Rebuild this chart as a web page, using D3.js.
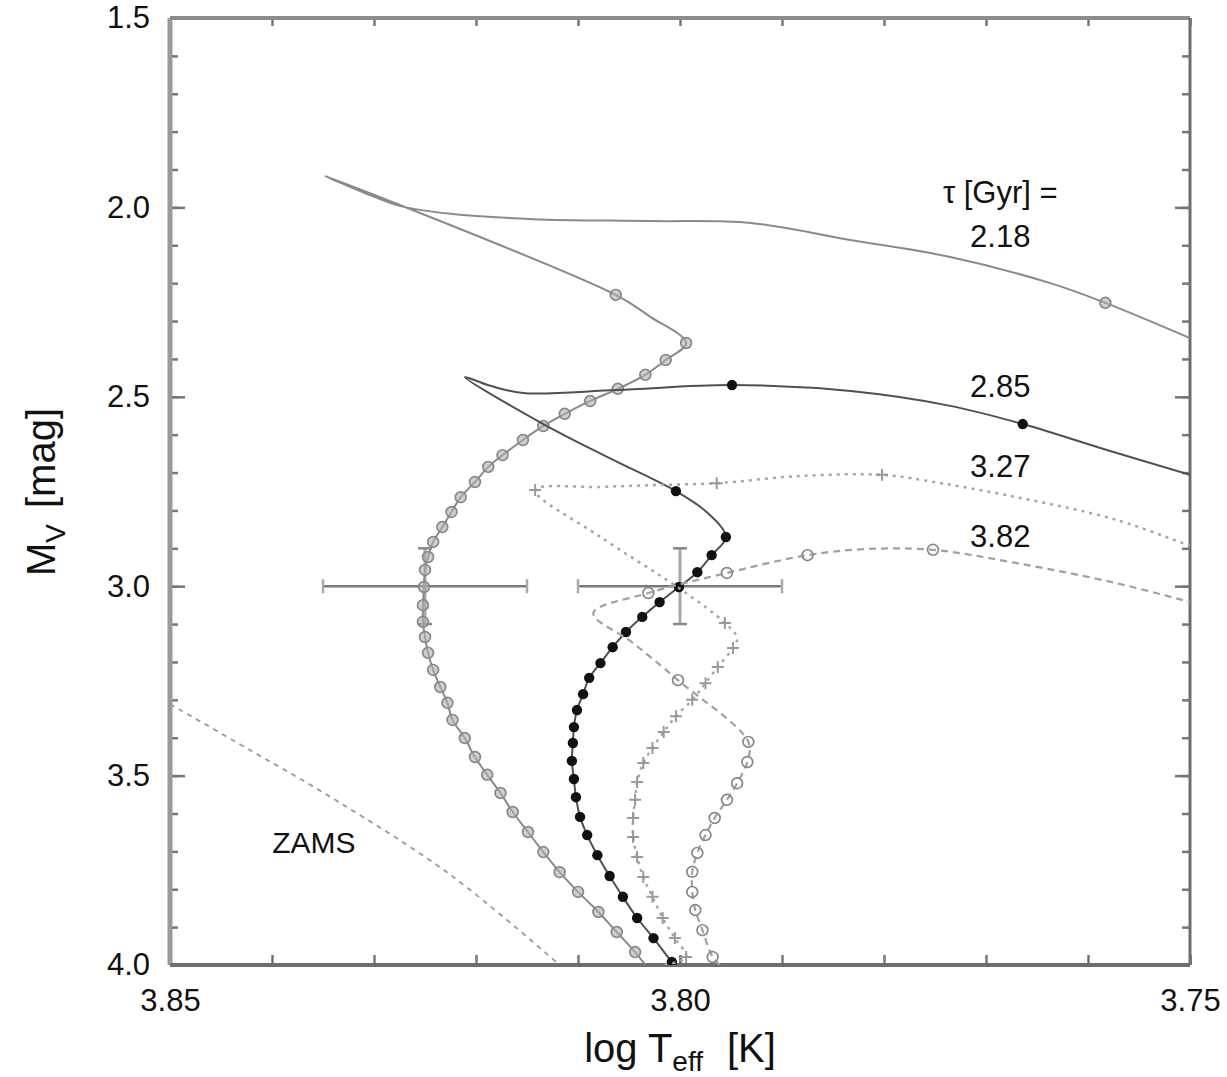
<!DOCTYPE html>
<html>
<head>
<meta charset="utf-8">
<script src="https://cdn.jsdelivr.net/npm/d3@7.9.0/dist/d3.min.js"></script>
<style>
  html, body { margin: 0; padding: 0; background: #fff; }
  svg { display: block; font-family: "Liberation Sans", Arial, sans-serif; }
</style>
</head>
<body>
<svg id="chart" width="1227" height="1077"></svg>
<script>
// Isochrone points: [log Teff, M_V, marker? (1/0)]
const iso218 = [
  [3.8034, 4.000, 0], [3.8044, 3.966, 1], [3.8062, 3.913, 1], [3.8080, 3.860, 1], [3.8100, 3.807, 1],
  [3.8118, 3.755, 1], [3.8134, 3.702, 1], [3.8149, 3.649, 1], [3.8164, 3.596, 1], [3.8176, 3.546, 1],
  [3.8189, 3.498, 1], [3.8201, 3.451, 1], [3.8211, 3.401, 1], [3.8223, 3.353, 1], [3.8228, 3.308, 1],
  [3.8235, 3.266, 1], [3.8242, 3.221, 1], [3.8247, 3.176, 1], [3.8250, 3.134, 1], [3.8252, 3.094, 1],
  [3.8252, 3.050, 1], [3.8251, 3.002, 1], [3.8250, 2.957, 1], [3.8247, 2.923, 1], [3.8242, 2.883, 1],
  [3.8233, 2.844, 1], [3.8224, 2.804, 1], [3.8215, 2.765, 1], [3.8201, 2.725, 1], [3.8188, 2.685, 1],
  [3.8174, 2.654, 1], [3.8154, 2.614, 1], [3.8134, 2.577, 1], [3.8113, 2.545, 1], [3.8088, 2.511, 1],
  [3.8061, 2.479, 1], [3.8034, 2.442, 1], [3.8014, 2.403, 1], [3.7994, 2.358, 1], [3.8029, 2.289, 0],
  [3.8063, 2.231, 1], [3.8348, 1.917, 0], [3.8309, 1.962, 0], [3.8275, 1.996, 0], [3.8225, 2.017, 0],
  [3.8144, 2.031, 0], [3.8029, 2.036, 0], [3.7931, 2.041, 0], [3.7833, 2.086, 0], [3.7735, 2.131, 0],
  [3.7637, 2.200, 0], [3.7583, 2.252, 1], [3.7500, 2.345, 0]
];

const iso285 = [
  [3.8005, 4.000, 0], [3.8008, 3.992, 1], [3.8026, 3.929, 1], [3.8042, 3.876, 1], [3.8056, 3.820, 1],
  [3.8069, 3.765, 1], [3.8081, 3.710, 1], [3.8091, 3.657, 1], [3.8098, 3.609, 1], [3.8102, 3.557, 1],
  [3.8104, 3.509, 1], [3.8106, 3.461, 1], [3.8105, 3.414, 1], [3.8104, 3.372, 1], [3.8101, 3.327, 1],
  [3.8095, 3.285, 1], [3.8089, 3.242, 1], [3.8078, 3.203, 1], [3.8066, 3.161, 1], [3.8053, 3.121, 1],
  [3.8037, 3.081, 1], [3.8020, 3.042, 1], [3.8001, 3.002, 1], [3.7983, 2.963, 1], [3.7969, 2.918, 1],
  [3.7955, 2.870, 1], [3.7974, 2.804, 0], [3.8004, 2.749, 1], [3.8069, 2.662, 0], [3.8134, 2.572, 0],
  [3.8211, 2.448, 0], [3.8186, 2.471, 0], [3.8154, 2.490, 0], [3.8062, 2.482, 0], [3.7949, 2.469, 1],
  [3.7833, 2.485, 0], [3.7735, 2.524, 0], [3.7664, 2.572, 1], [3.7588, 2.635, 0], [3.7500, 2.706, 0]
];

const iso327 = [
  [3.8015, 4.000, 0], [3.7994, 3.979, 1], [3.8005, 3.929, 1], [3.8017, 3.876, 1], [3.8027, 3.820, 1],
  [3.8036, 3.768, 1], [3.8042, 3.715, 1], [3.8046, 3.662, 1], [3.8046, 3.612, 1], [3.8044, 3.564, 1],
  [3.8042, 3.517, 1], [3.8036, 3.467, 1], [3.8027, 3.427, 1], [3.8016, 3.385, 1], [3.8004, 3.343, 1],
  [3.7988, 3.300, 1], [3.7975, 3.256, 1], [3.7963, 3.213, 1], [3.7948, 3.163, 1], [3.7944, 3.137, 0],
  [3.7956, 3.097, 1], [3.8000, 3.007, 0], [3.8078, 2.870, 0], [3.8142, 2.746, 1], [3.8078, 2.738, 0],
  [3.8023, 2.733, 0], [3.7964, 2.728, 1], [3.7882, 2.709, 0], [3.7802, 2.706, 1], [3.7762, 2.720, 0],
  [3.7670, 2.765, 0], [3.7572, 2.825, 0], [3.7500, 2.894, 0]
];

const iso382 = [
  [3.7961, 4.000, 0], [3.7968, 3.979, 1], [3.7978, 3.908, 1], [3.7985, 3.855, 1], [3.7988, 3.807, 1],
  [3.7988, 3.754, 1], [3.7983, 3.704, 1], [3.7975, 3.657, 1], [3.7966, 3.612, 1], [3.7954, 3.564, 1],
  [3.7944, 3.520, 1], [3.7934, 3.464, 1], [3.7933, 3.411, 1], [3.8002, 3.248, 1], [3.8046, 3.150, 0],
  [3.8085, 3.071, 0], [3.8031, 3.018, 1], [3.7954, 2.965, 1], [3.7875, 2.918, 1], [3.7817, 2.902, 0],
  [3.7752, 2.904, 1], [3.7670, 2.939, 0], [3.7572, 2.992, 0], [3.7500, 3.042, 0]
];

const zams = [[3.8500, 3.311], [3.8422, 3.432], [3.8338, 3.564], [3.8225, 3.762], [3.8118, 4.000]];

// observed positions with error bars
const obsTeff = [3.825, 3.800];
const obsMv = [3.0, 3.0];
const errTeff = 0.01;
const errMv = 0.1;

const ageLabels = ['2.18', '2.85', '3.27', '3.82'];
const xMajor = [3.85, 3.80, 3.75];
const xMinor = d3.range(3.75, 3.8501, 0.01);
const yMajor = [1.5, 2.0, 2.5, 3.0, 3.5, 4.0];
const yMinor = d3.range(1.5, 4.001, 0.1);

const svg = d3.select('#chart');
const m = { left: 170, right: 1190, top: 18, bottom: 965 };

const x = d3.scaleLinear().domain([3.85, 3.75]).range([m.left, m.right]);
const y = d3.scaleLinear().domain([1.5, 4.0]).range([m.top, m.bottom]);

svg.append('defs').append('clipPath').attr('id', 'plot')
  .append('rect').attr('x', m.left).attr('y', m.top)
  .attr('width', m.right - m.left).attr('height', m.bottom - m.top);

// Axes: ticks point inward, frame drawn separately
function styleAxis(g) {
  g.select('.domain').remove();
  g.selectAll('.tick line').attr('stroke', '#777').attr('stroke-width', 2.5);
  g.attr('font-family', null).attr('font-size', 31);
  g.selectAll('.tick text').attr('fill', '#111');
}

svg.append('g').attr('transform', `translate(${m.left},0)`)
  .call(d3.axisLeft(y).tickValues(yMinor).tickSize(-8).tickFormat(''))
  .call(styleAxis);
svg.append('g').attr('transform', `translate(${m.left},0)`)
  .call(d3.axisLeft(y).tickValues(yMajor).tickSize(-15).tickPadding(20).tickFormat(d3.format('.1f')))
  .call(styleAxis);
svg.append('g').attr('transform', `translate(${m.right},0)`)
  .call(d3.axisRight(y).tickValues(yMinor).tickSize(-8).tickFormat(''))
  .call(styleAxis);
svg.append('g').attr('transform', `translate(${m.right},0)`)
  .call(d3.axisRight(y).tickValues(yMajor).tickSize(-15).tickFormat(''))
  .call(styleAxis);
svg.append('g').attr('transform', `translate(0,${m.bottom})`)
  .call(d3.axisBottom(x).tickValues(xMinor).tickSize(-10).tickFormat(''))
  .call(styleAxis);
svg.append('g').attr('transform', `translate(0,${m.bottom})`)
  .call(d3.axisBottom(x).tickValues(xMajor).tickSize(-10).tickPadding(24).tickFormat(d3.format('.2f')))
  .call(styleAxis);
svg.append('g').attr('transform', `translate(0,${m.top})`)
  .call(d3.axisTop(x).tickValues(xMinor).tickSize(-8).tickFormat(''))
  .call(styleAxis);

// frame
svg.append('line').attr('x1', m.left).attr('x2', m.left).attr('y1', m.top).attr('y2', m.bottom)
  .attr('stroke', '#9a9a9a').attr('stroke-width', 5);
svg.append('line').attr('x1', m.left).attr('x2', m.right).attr('y1', m.top).attr('y2', m.top)
  .attr('stroke', '#8c8c8c').attr('stroke-width', 4);
svg.append('line').attr('x1', m.right).attr('x2', m.right).attr('y1', m.top).attr('y2', m.bottom)
  .attr('stroke', '#6e6e6e').attr('stroke-width', 3);
svg.append('line').attr('x1', m.left).attr('x2', m.right).attr('y1', m.bottom).attr('y2', m.bottom)
  .attr('stroke', '#6e6e6e').attr('stroke-width', 4);

const plot = svg.append('g').attr('clip-path', 'url(#plot)');
const line = d3.line().x(d => x(d[0])).y(d => y(d[1])).curve(d3.curveCatmullRom.alpha(0.5));

// ZAMS
plot.append('path').datum(zams).attr('d', line)
  .attr('fill', 'none').attr('stroke', '#9a9a9a').attr('stroke-width', 1.8)
  .attr('stroke-dasharray', '5,5');

// error crosses
const errG = plot.append('g');
obsTeff.forEach((t, i) => {
  const cx = x(t), cy = y(obsMv[i]);
  const x0 = x(t + errTeff), x1 = x(t - errTeff);
  const y0 = y(obsMv[i] - errMv), y1 = y(obsMv[i] + errMv);
  errG.append('line').attr('x1', cx).attr('x2', cx).attr('y1', y0).attr('y2', y1)
    .attr('stroke', '#a8a8a8').attr('stroke-width', 3);
  [y0, y1].forEach(v => errG.append('line').attr('x1', cx - 7).attr('x2', cx + 7)
    .attr('y1', v).attr('y2', v).attr('stroke', '#888').attr('stroke-width', 2.5));
  errG.append('line').attr('x1', x0).attr('x2', x1).attr('y1', cy).attr('y2', cy)
    .attr('stroke', '#7a7a7a').attr('stroke-width', 2.5);
  [x0, x1].forEach(v => errG.append('line').attr('x1', v).attr('x2', v)
    .attr('y1', cy - 7).attr('y2', cy + 7).attr('stroke', '#aaa').attr('stroke-width', 2.5));
});

// isochrones
const series = [
  { data: iso218, stroke: '#8a8a8a', width: 2, dash: null, marker: 'circleGray' },
  { data: iso285, stroke: '#505050', width: 2, dash: null, marker: 'dot' },
  { data: iso327, stroke: '#a6a6a6', width: 2.5, dash: '3,5', marker: 'plus' },
  { data: iso382, stroke: '#a0a0a0', width: 2.2, dash: '7,5', marker: 'open' }
];

series.forEach(s => {
  plot.append('path').datum(s.data).attr('d', line)
    .attr('fill', 'none').attr('stroke', s.stroke).attr('stroke-width', s.width)
    .attr('stroke-dasharray', s.dash);
  const pts = s.data.filter(d => d[2]);
  const g = plot.append('g');
  if (s.marker === 'plus') {
    g.selectAll('path').data(pts).join('path')
      .attr('d', d => `M${x(d[0]) - 6},${y(d[1])}h12M${x(d[0])},${y(d[1]) - 6}v12`)
      .attr('stroke', '#999').attr('stroke-width', 2).attr('fill', 'none');
  } else {
    g.selectAll('circle').data(pts).join('circle')
      .attr('cx', d => x(d[0])).attr('cy', d => y(d[1]))
      .attr('r', s.marker === 'dot' ? 5.2 : 5.4)
      .attr('fill', s.marker === 'dot' ? '#111' : (s.marker === 'circleGray' ? 'rgba(175,175,175,0.6)' : 'none'))
      .attr('stroke', s.marker === 'dot' ? 'none' : '#888')
      .attr('stroke-width', 1.7);
  }
});

// labels
const labelX = 3.7686;
svg.append('text').attr('x', x(labelX)).attr('y', y(1.988)).attr('text-anchor', 'middle')
  .attr('font-size', 31).attr('fill', '#111').text('τ [Gyr] =');
const labelMv = [2.105, 2.501, 2.712, 2.897];
ageLabels.forEach((t, i) => {
  svg.append('text').attr('x', x(labelX)).attr('y', y(labelMv[i])).attr('text-anchor', 'middle')
    .attr('font-size', 31).attr('fill', '#111').text(t);
});
svg.append('text').attr('x', x(3.8359)).attr('y', y(3.704)).attr('text-anchor', 'middle')
  .attr('font-size', 30).attr('fill', '#111').text('ZAMS');

// axis titles
const xt = svg.append('text').attr('x', (m.left + m.right) / 2).attr('y', 1062)
  .attr('text-anchor', 'middle').attr('font-size', 40).attr('fill', '#111');
xt.append('tspan').text('log T');
xt.append('tspan').attr('dy', 9).attr('font-size', 28).text('eff');
xt.append('tspan').attr('dy', -9).attr('dx', 24).text('[K]');

const yt = svg.append('text').attr('transform', 'translate(55,492) rotate(-90)')
  .attr('text-anchor', 'middle').attr('font-size', 40).attr('fill', '#111');
yt.append('tspan').text('M');
yt.append('tspan').attr('dy', 10).attr('font-size', 28).text('V');
yt.append('tspan').attr('dy', -10).attr('dx', 16).text('[mag]');
</script>
</body>
</html>
